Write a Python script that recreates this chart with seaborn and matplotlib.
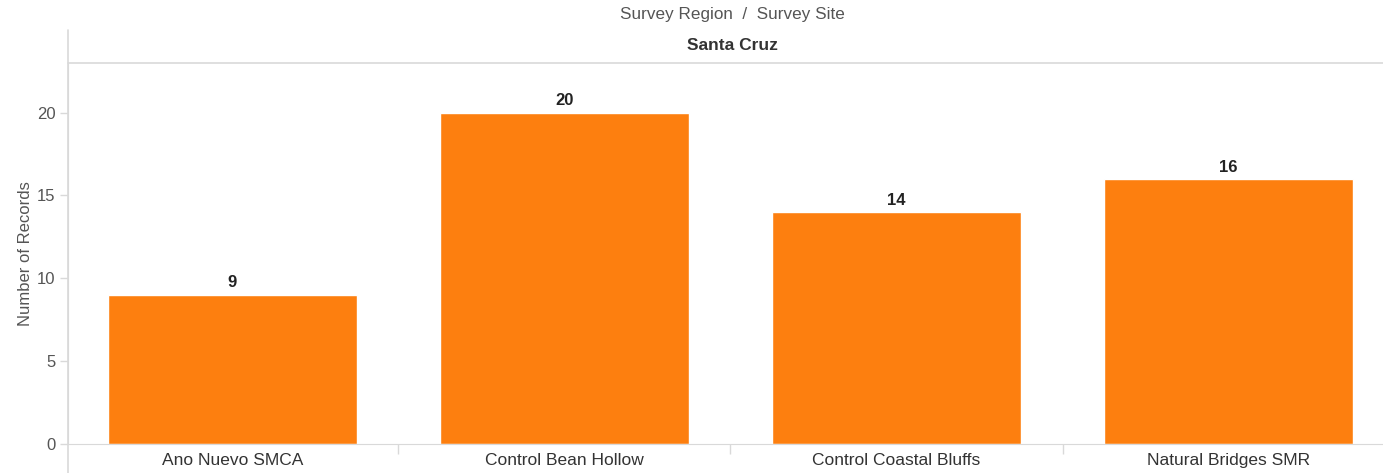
import matplotlib
matplotlib.use("Agg")
import matplotlib.pyplot as plt
import seaborn as sns
import pandas as pd

sites = ["Ano Nuevo SMCA", "Control Bean Hollow", "Control Coastal Bluffs", "Natural Bridges SMR"]
records = [9, 20, 14, 16]
region = "Santa Cruz"

df = pd.DataFrame({"site": sites, "records": records})

sns.set_style("white")
plt.rcParams["font.family"] = ["Liberation Sans", "DejaVu Sans"]

grey = "#d9d9d9"
txt = "#555555"

fig = plt.figure(figsize=(13.83, 4.73), dpi=100)
ax = fig.add_axes([68 / 1383, 29.5 / 473, 1315 / 1383, 380.5 / 473])

sns.barplot(data=df, x="site", y="records", color="#fd7f0f", saturation=1, width=0.75, ax=ax)

for i, v in enumerate(records):
    ax.text(i, v + 0.25, str(v), ha="center", va="bottom", fontsize=12,
            fontweight="bold", color="#222222")

ax.set_ylim(0, 23)
ax.set_xlim(-0.495, 3.465)
ax.set_yticks([0, 5, 10, 15, 20])
ax.set_xlabel("")
ax.set_ylabel("Number of Records", fontsize=12, color=txt, labelpad=3)
ax.tick_params(axis="y", left=True, length=6, width=1, color=grey, labelsize=12,
               labelcolor=txt, pad=3)
ax.tick_params(axis="x", bottom=True, length=0, labelsize=12.5, labelcolor="#333333", pad=7)
ax.set_xticks([0.5, 1.5, 2.5], minor=True)
ax.tick_params(axis="x", which="minor", bottom=True, length=7, width=1, color=grey)

for s in ["top", "right"]:
    ax.spines[s].set_visible(False)
ax.spines["left"].set_color(grey)
ax.spines["bottom"].set_color(grey)

# header band with region name
fig.lines.append(plt.Line2D([68 / 1383, 1], [1 - 63 / 473] * 2, color=grey, lw=1.2,
                            transform=fig.transFigure))
fig.lines.append(plt.Line2D([68 / 1383] * 2, [0, 1 - 30 / 473], color=grey, lw=1.2,
                            transform=fig.transFigure))
fig.text(732 / 1383, 1 - 46 / 473, region, ha="center", va="center", fontsize=12.5,
         fontweight="bold", color="#333333")
fig.text(732 / 1383, 1 - 15 / 473, "Survey Region  /  Survey Site", ha="center",
         va="center", fontsize=12.3, color=txt)

fig.savefig("out.png", dpi=100)
